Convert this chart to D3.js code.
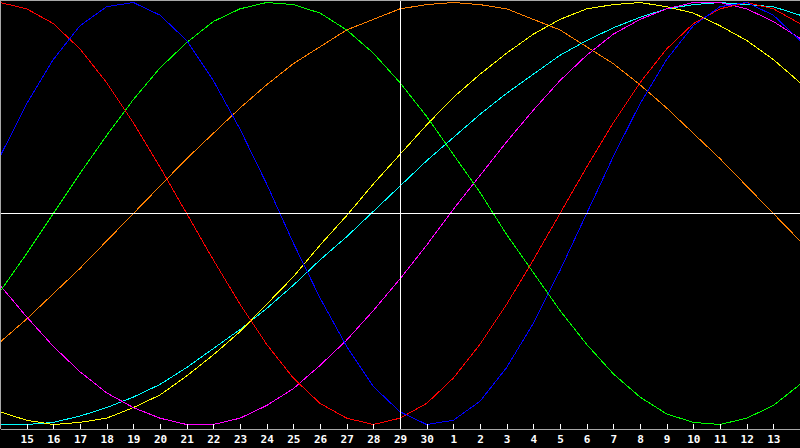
<!DOCTYPE html>
<html>
<head>
<meta charset="utf-8">
<script src="https://cdn.jsdelivr.net/npm/d3@7"></script>
<style>
  html, body { margin: 0; padding: 0; background: #000; }
  svg { display: block; }
</style>
</head>
<body>
<svg width="800" height="448"></svg>
<script>
// day labels along the bottom, one per column (14 .. 30, 1 .. 14)
var days = [14,15,16,17,18,19,20,21,22,23,24,25,26,27,28,29,30,1,2,3,4,5,6,7,8,9,10,11,12,13,14];

// curve values in percent, one per day
var blueVals    = [27,52,73,89,98,100,94,82,63,40,14,-14,-40,-63,-82,-94,-100,-98,-89,-73,-52,-27,0,27,52,73,89,98,100,94,82];
var redVals     = [100,97,90,78,62,43,22,0,-22,-43,-62,-78,-90,-97,-100,-97,-90,-78,-62,-43,-22,0,22,43,62,78,90,97,100,97,90];
var greenVals   = [-37,-19,0,19,37,54,69,81,91,97,100,99,95,87,76,62,46,28,10,-10,-28,-46,-62,-76,-87,-95,-99,-100,-97,-91,-81];
var magentaVals = [-34,-49,-63,-75,-85,-92,-97,-100,-100,-97,-91,-83,-72,-60,-46,-31,-15,2,18,34,49,63,75,85,92,97,100,100,97,91,83];
var yellowVals  = [-94,-98,-100,-99,-97,-92,-86,-77,-67,-56,-43,-30,-15,-1,14,28,42,55,66,76,85,92,97,99,100,98,95,89,82,73,62];
var cyanVals    = [-100,-100,-99,-96,-92,-87,-81,-73,-64,-55,-45,-34,-22,-11,1,13,25,36,47,57,66,75,82,88,93,97,99,100,99,98,94];
var orangeVals  = [-61,-50,-38,-26,-13,0,13,26,38,50,61,71,79,87,92,97,99,100,99,97,92,87,79,71,61,50,38,26,13,0,-13];

var series = [
  {values: orangeVals,  color: "#ff8000"},
  {values: cyanVals,    color: "#00ffff"},
  {values: yellowVals,  color: "#ffff00"},
  {values: magentaVals, color: "#ff00ff"},
  {values: greenVals,   color: "#00ff00"},
  {values: redVals,     color: "#ff0000"},
  {values: blueVals,    color: "#0000ff"}
];

var svg = d3.select("svg");
var width = +svg.attr("width");
var height = +svg.attr("height");
var axisY = 428.5;

svg.append("rect").attr("width", width).attr("height", height).attr("fill", "#000");

var x = d3.scaleLinear().domain([0, days.length - 1]).range([0, width]);
var y = d3.scaleLinear().domain([-100, 100]).range([424.5, 2.5]);

// curves
var line = d3.line()
  .x(function (d, i) { return x(i); })
  .y(function (d) { return y(d); });

svg.append("g")
  .selectAll("path")
  .data(series)
  .join("path")
    .attr("d", function (d) { return line(d.values); })
    .attr("fill", "none")
    .attr("stroke", function (d) { return d.color; })
    .attr("stroke-width", 1)
    .attr("shape-rendering", "crispEdges");

// crosshair at today
var today = 15;
svg.append("line")
  .attr("x1", 0).attr("x2", width)
  .attr("y1", y(0) - 0.5).attr("y2", y(0) - 0.5)
  .attr("stroke", "#fff").attr("shape-rendering", "crispEdges");
svg.append("line")
  .attr("x1", x(today) + 0.5).attr("x2", x(today) + 0.5)
  .attr("y1", 0).attr("y2", axisY)
  .attr("stroke", "#fff").attr("shape-rendering", "crispEdges");

// frame: top and left
svg.append("line").attr("x1", 0).attr("x2", width).attr("y1", 0.5).attr("y2", 0.5)
  .attr("stroke", "#a8a8a8").attr("shape-rendering", "crispEdges");
svg.append("line").attr("x1", 0.5).attr("x2", 0.5).attr("y1", 0).attr("y2", axisY)
  .attr("stroke", "#a8a8a8").attr("shape-rendering", "crispEdges");

// bottom axis with day numbers
var axis = d3.axisBottom(x)
  .tickValues(d3.range(1, days.length - 1))
  .tickSizeInner(-5)
  .tickSizeOuter(0)
  .tickPadding(7)
  .tickFormat(function (i) { return days[i]; });

var gx = svg.append("g")
  .attr("transform", "translate(0," + axisY + ")")
  .call(axis);

gx.select(".domain").attr("stroke", "#a8a8a8").attr("shape-rendering", "crispEdges");
gx.selectAll(".tick line").attr("stroke", "#fff").attr("shape-rendering", "crispEdges");
gx.selectAll(".tick text")
  .attr("fill", "#fff")
  .attr("font-family", "'DejaVu Sans Mono', monospace")
  .attr("font-weight", "bold")
  .attr("font-size", 11);
</script>
</body>
</html>
